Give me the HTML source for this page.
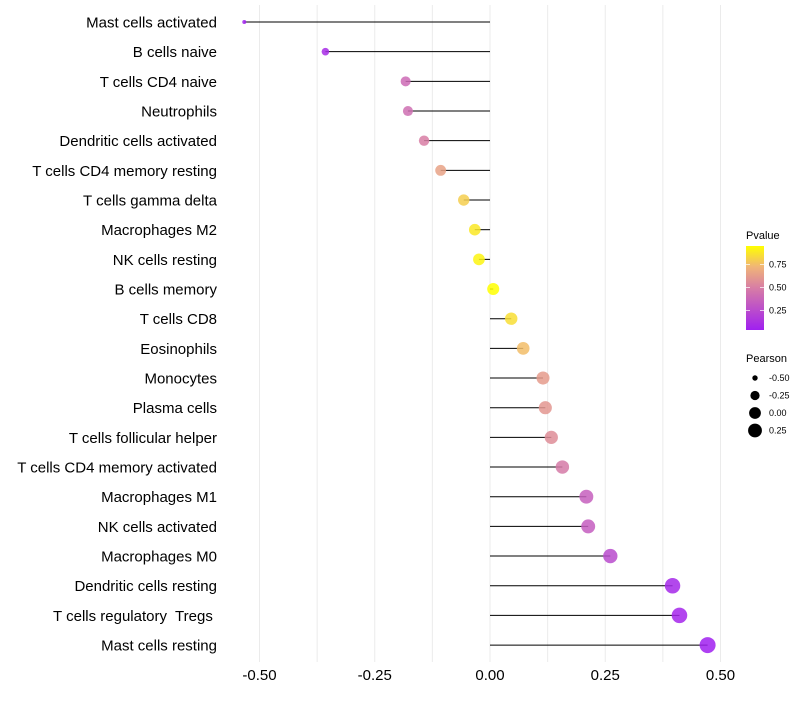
<!DOCTYPE html>
<html><head><meta charset="utf-8"><style>
body{margin:0;background:#fff;font-family:"Liberation Sans",sans-serif;}
svg text{font-family:"Liberation Sans",sans-serif;white-space:pre;}
</style></head><body>
<svg id="chart" width="800" height="700"></svg>
<script>
const categories=["Mast cells activated","B cells naive","T cells CD4 naive","Neutrophils","Dendritic cells activated","T cells CD4 memory resting","T cells gamma delta","Macrophages M2","NK cells resting","B cells memory","T cells CD8","Eosinophils","Monocytes","Plasma cells","T cells follicular helper","T cells CD4 memory activated","Macrophages M1","NK cells activated","Macrophages M0","Dendritic cells resting","T cells regulatory  Tregs ","Mast cells resting"];
const pearson=[-0.533,-0.357,-0.183,-0.178,-0.143,-0.107,-0.057,-0.033,-0.024,0.007,0.046,0.072,0.115,0.12,0.133,0.157,0.209,0.213,0.261,0.396,0.411,0.472];
const pvalues=[0.05,0.1,0.4,0.42,0.5,0.65,0.8,0.88,0.92,0.97,0.85,0.75,0.62,0.6,0.56,0.48,0.35,0.34,0.25,0.08,0.07,0.04];
const xTicks=[-0.5,-0.25,0,0.25,0.5];
const xTickLabels=["-0.50","-0.25","0.00","0.25","0.50"];
const pTicks=[0.25,0.5,0.75];
const sizeTicks=[-0.5,-0.25,0,0.25];

const NS="http://www.w3.org/2000/svg";
const svg=document.getElementById('chart');
const x=v=>490+v*461;
const y=i=>22+i*29.67;
const r=v=>8*Math.sqrt(Math.max(0.01,(v+0.6)/1.07));
const pMin=0.04,pMax=0.95;
const stops=[[0,[160,32,240]],[0.5,[215,125,165]],[0.75,[240,180,120]],[1,[255,255,0]]];
function col(p){let t=Math.max(0,Math.min(1,(p-pMin)/(pMax-pMin)));
 for(let k=1;k<stops.length;k++){if(t<=stops[k][0]){const a=stops[k-1],b=stops[k];const f=(t-a[0])/(b[0]-a[0]);
 return 'rgb('+a[1].map((c,j)=>Math.round(c+(b[1][j]-c)*f)).join(',')+')';}}return 'rgb(255,255,0)';}
function el(t,a,p){const e=document.createElementNS(NS,t);for(const k in a)e.setAttribute(k,a[k]);(p||svg).appendChild(e);return e;}

for(let v=-0.5;v<=0.5001;v+=0.125){
 const g=el('line',{x1:x(v),x2:x(v),y1:5,y2:662,stroke:'#ebebeb','stroke-width':1});
 
 
}
xTicks.forEach((v,k)=>{
 const t=el('text',{x:x(v),y:680,'text-anchor':'middle','font-size':15,fill:'#000'});
 t.textContent=xTickLabels[k];
 
 
});
categories.forEach((c,i)=>{
 const t=el('text',{x:217,y:y(i)+5.5,'text-anchor':'end','font-size':15,fill:'#000'});
 t.textContent=c;
 
 
 const ln=el('line',{x1:x(0),x2:x(pearson[i]),y1:y(i),y2:y(i),stroke:'#000','stroke-width':1});
 
 
 const d=el('circle',{cx:x(pearson[i]),cy:y(i),r:r(pearson[i]),fill:col(pvalues[i]),'fill-opacity':0.85});
 
 
});
const defs=el('defs',{});
const lg=el('linearGradient',{id:'pg',x1:0,y1:1,x2:0,y2:0},defs);
stops.forEach(s=>el('stop',{offset:s[0],'stop-color':'rgb('+s[1].join(',')+')'},lg));
const lt=el('text',{x:746,y:239,'font-size':11,fill:'#000'});lt.textContent='Pvalue';


const bar=el('rect',{x:746,y:246,width:18,height:84,fill:'url(#pg)'});


const py=p=>330-(p-pMin)/(pMax-pMin)*84;
pTicks.forEach(p=>{
 el('line',{x1:746,x2:750,y1:py(p),y2:py(p),stroke:'#fff','stroke-width':0.7});
 el('line',{x1:760,x2:764,y1:py(p),y2:py(p),stroke:'#fff','stroke-width':0.7});
 const t=el('text',{x:769,y:py(p)+3,'font-size':9,fill:'#000'});t.textContent=p.toFixed(2);
 
 
});
const st=el('text',{x:746,y:362,'font-size':11,fill:'#000'});st.textContent='Pearson';


sizeTicks.forEach((v,k)=>{
 const cy=378+k*17.5;
 const c=el('circle',{cx:755,cy:cy,r:r(v)*0.9+0.5,fill:'#000'});
 
 
 const t=el('text',{x:769,y:cy+3,'font-size':9,fill:'#000'});t.textContent=v.toFixed(2);
 
 
});
</script>
</body></html>
